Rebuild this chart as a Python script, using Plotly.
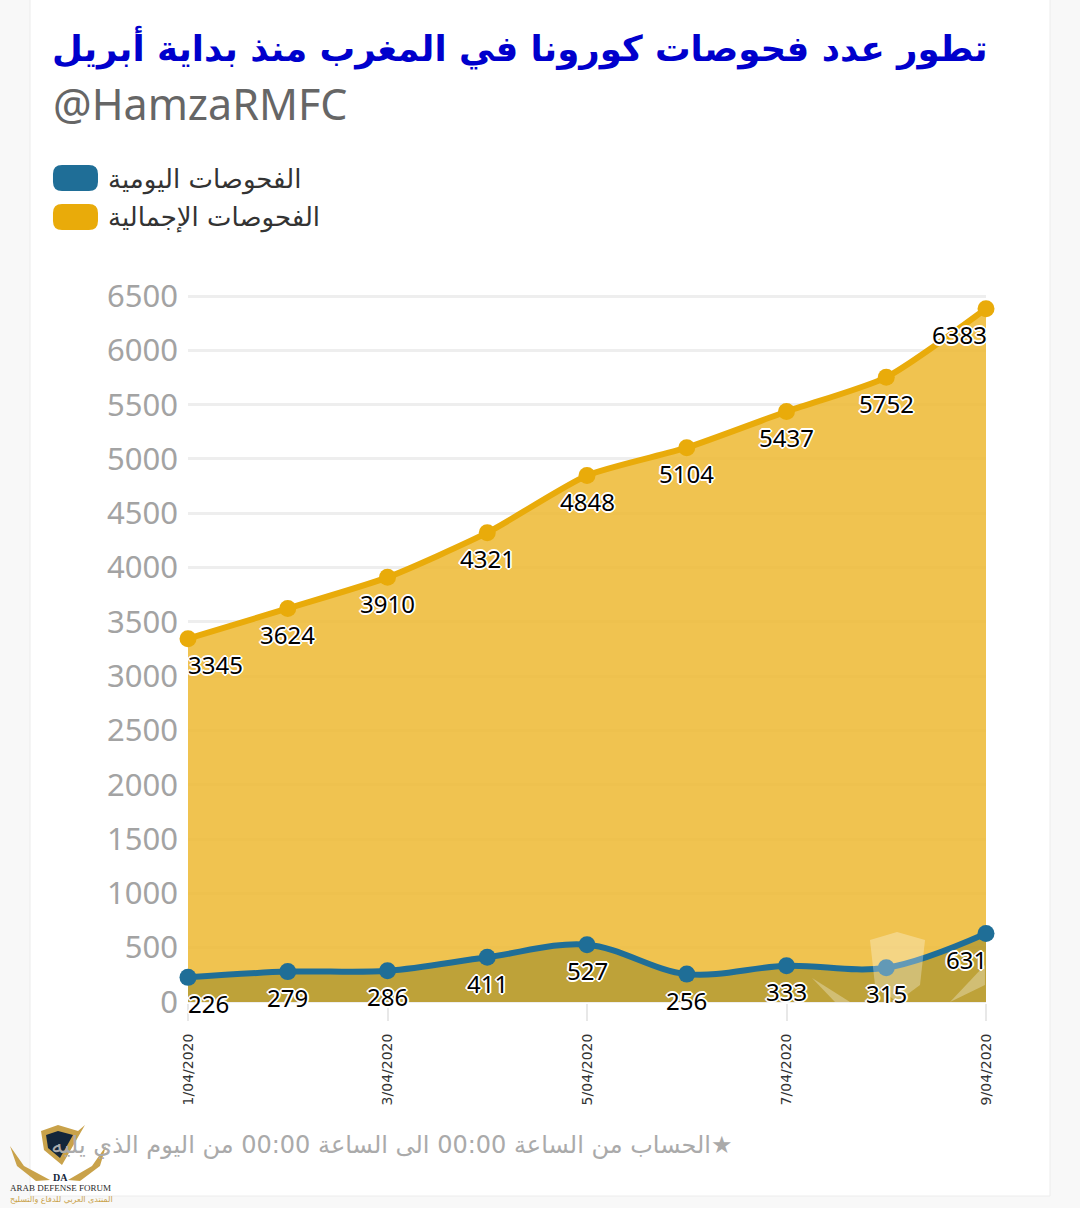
import plotly.graph_objects as go

days = ['1/04/2020', '2/04/2020', '3/04/2020', '4/04/2020', '5/04/2020',
        '6/04/2020', '7/04/2020', '8/04/2020', '9/04/2020']
shown_days = ['1/04/2020', '3/04/2020', '5/04/2020', '7/04/2020', '9/04/2020']
daily = [226, 279, 286, 411, 527, 256, 333, 315, 631]
total = [3345, 3624, 3910, 4321, 4848, 5104, 5437, 5752, 6383]
y_ticks = [0, 500, 1000, 1500, 2000, 2500, 3000, 3500, 4000, 4500, 5000, 5500, 6000, 6500]

title = 'تطور عدد فحوصات كورونا في المغرب منذ بداية أبريل'
byline = '@HamzaRMFC'
daily_name = 'الفحوصات اليومية'
total_name = 'الفحوصات الإجمالية'
footnote = 'الحساب من الساعة 00:00 الى الساعة 00:00 من اليوم الذي يليه★'

BLUE = '#1f6e97'
GOLD = '#e9ab0a'
HALO = ('-2px 0 0 #fff, 2px 0 0 #fff, 0 -2px 0 #fff, 0 2px 0 #fff, '
        '-1px -1px 0 #fff, 1px -1px 0 #fff, -1px 1px 0 #fff, 1px 1px 0 #fff')

# plot area in page pixels, used for everything outside the axes
L, R, T, B = 188, 986, 295, 1003


def px(x):
    return (x - L) / (R - L)


def py(y):
    return (B - y) / (B - T)


def poly(points, color):
    path = 'M ' + ' L '.join(f'{px(a):.4f},{py(b):.4f}' for a, b in points) + ' Z'
    return dict(type='path', xref='paper', yref='paper', path=path, fillcolor=color,
                line=dict(width=0), layer='above')


def pill(x0, y0, x1, y1, r, color):
    path = (f'M {px(x0 + r):.4f},{py(y0):.4f} L {px(x1 - r):.4f},{py(y0):.4f} '
            f'Q {px(x1):.4f},{py(y0):.4f} {px(x1):.4f},{py(y0 + r):.4f} '
            f'L {px(x1):.4f},{py(y1 - r):.4f} '
            f'Q {px(x1):.4f},{py(y1):.4f} {px(x1 - r):.4f},{py(y1):.4f} '
            f'L {px(x0 + r):.4f},{py(y1):.4f} '
            f'Q {px(x0):.4f},{py(y1):.4f} {px(x0):.4f},{py(y1 - r):.4f} '
            f'L {px(x0):.4f},{py(y0 + r):.4f} '
            f'Q {px(x0):.4f},{py(y0):.4f} {px(x0 + r):.4f},{py(y0):.4f} Z')
    return dict(type='path', xref='paper', yref='paper', path=path, fillcolor=color,
                line=dict(width=0), layer='above')


def page_text(x, y, text, size, color, anchor='left', family='DejaVu Sans'):
    return dict(xref='paper', yref='paper', x=px(x), y=py(y), text=text, showarrow=False,
                xanchor=anchor, yanchor='middle', font=dict(size=size, color=color, family=family))


fig = go.Figure()

fig.add_trace(go.Scatter(
    x=days, y=total, name=total_name, mode='lines+markers', cliponaxis=False,
    line=dict(color=GOLD, width=6, shape='spline', smoothing=0.6),
    marker=dict(size=17, color=GOLD),
    fill='tozeroy', fillcolor='rgba(237,184,49,0.85)'))
fig.add_trace(go.Scatter(
    x=days, y=daily, name=daily_name, mode='lines+markers', cliponaxis=False,
    line=dict(color=BLUE, width=6, shape='spline', smoothing=1),
    marker=dict(size=17, color=BLUE),
    fill='tozeroy', fillcolor='rgba(77,85,7,0.3)'))

annotations = []
# value labels sit under each point, end labels pushed inside the plot
for series in (total, daily):
    for i, v in enumerate(series):
        half = 27 if v >= 1000 else 20
        shift = half if i == 0 else (-half if i == len(series) - 1 else 0)
        annotations.append(dict(
            x=days[i], y=v, text=str(v), showarrow=False, xshift=shift, yshift=-26,
            font=dict(size=24, color='#000', family='Noto Sans', shadow=HALO)))

annotations += [
    page_text(990, 48, '<b>' + title + '</b>', 35.5, '#0000cc', 'right'),
    page_text(51, 104, byline, 43, '#666666', 'left', 'Noto Sans'),
    page_text(106, 179, daily_name, 26, '#333333'),
    page_text(106, 218, total_name, 26, '#333333'),
    page_text(735, 1145, footnote, 24, '#aaaaaa', 'right'),
]

shapes = [
    # white card on the pale page
    dict(type='rect', xref='paper', yref='paper', x0=px(30), x1=px(1050), y0=py(1196), y1=py(-10),
         fillcolor='white', line=dict(color='#ececec', width=1), layer='below'),
    pill(53, 165, 98, 191, 9, BLUE),
    pill(53, 204, 98, 230, 9, GOLD),
    # faint watermark over the plot
    poly([(870, 940), (897, 932), (925, 940), (920, 985), (897, 1002), (875, 985)],
         'rgba(255,255,255,0.3)'),
    poly([(812, 978), (850, 1002), (835, 1002)], 'rgba(255,255,255,0.3)'),
    poly([(985, 965), (950, 1002), (985, 985)], 'rgba(255,255,255,0.3)'),
    # logo bottom left
    poly([(41, 1131), (58, 1125), (78, 1131), (85, 1125), (62, 1165), (44, 1150)], '#c9a24a'),
    poly([(46, 1135), (58, 1131), (73, 1135), (60, 1158), (48, 1148)], '#14263a'),
    poly([(10, 1146), (24, 1166), (50, 1180), (36, 1181), (17, 1166)], '#c9a24a'),
    poly([(106, 1146), (92, 1166), (68, 1180), (80, 1181), (100, 1166)], '#c9a24a'),
]
annotations += [
    page_text(60, 1177, '<b>DA</b>', 10, '#14263a', 'center', 'Liberation Serif'),
    page_text(60, 1188, 'ARAB DEFENSE FORUM', 9, '#2a2a2a', 'center', 'Liberation Serif'),
    page_text(61, 1199, 'المنتدى العربي للدفاع والتسليح', 8, '#c9a24a', 'center'),
]

fig.update_layout(
    width=1080, height=1208,
    margin=dict(l=L, r=1080 - R, t=T, b=1208 - B, pad=0),
    paper_bgcolor='#f8f8f8', plot_bgcolor='white',
    showlegend=False,
    shapes=shapes,
    annotations=annotations,
    xaxis=dict(
        type='category', categoryorder='array', categoryarray=days, range=[0, 8],
        tickmode='array', tickvals=shown_days, ticktext=shown_days, tickangle=-90,
        ticks='outside', ticklen=17, tickcolor='#e8e8e8', tickwidth=2, ticklabelstandoff=7,
        tickfont=dict(size=14, color='#333333', family='DejaVu Sans'),
        showgrid=False, zeroline=False, showline=False),
    yaxis=dict(
        range=[-10, 6510], tickmode='array', tickvals=y_ticks,
        tickfont=dict(size=31, color='#a3a3a3', family='Noto Sans'), ticklabelstandoff=9,
        gridcolor='#eeeeee', gridwidth=3, zeroline=False, showline=False, ticklen=0),
)

fig.write_html('out.html', config=dict(displayModeBar=False),
               post_script="document.body.style.margin='0';document.body.style.background='#f8f8f8';")
